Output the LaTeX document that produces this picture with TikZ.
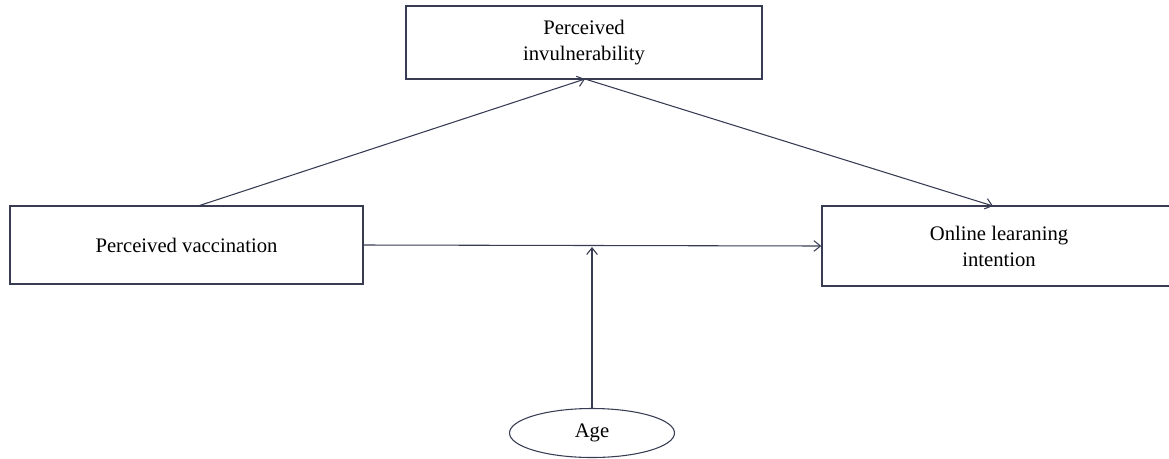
\documentclass[tikz,border=0pt]{standalone}
\usepackage{fontspec}
\setmainfont{Liberation Serif}
\usetikzlibrary{arrows.meta,shapes.geometric}
\definecolor{lc}{RGB}{55,60,82}
\begin{document}
\begin{tikzpicture}[x=0.75pt,y=-0.75pt,
  boxstyle/.style={draw=lc,line width=1pt,rectangle,inner sep=0pt,font=\fontsize{15.5}{19.5}\selectfont,align=center},
  conn/.style={draw=lc,line width=0.8pt,-{Straight Barb[length=5pt,width=8pt]}}]
\useasboundingbox (0,0) rectangle (1169,458);
\clip (0,0) rectangle (1169,458);
\node[boxstyle,minimum width=356*0.75pt,minimum height=73*0.75pt] (top) at (584,42.5) {Perceived\\invulnerability};
\node[boxstyle,minimum width=353*0.75pt,minimum height=78*0.75pt] (left) at (186.5,245) {Perceived vaccination};
\node[boxstyle,minimum width=354*0.75pt,minimum height=80*0.75pt] (right) at (999,246) {Online learaning\\intention};
\node[draw=lc,line width=0.8pt,ellipse,minimum width=165*0.75pt,minimum height=49*0.75pt,inner sep=0pt,font=\fontsize{15.5}{19.5}\selectfont] (age) at (592,433) {Age};
\coordinate (ls) at (198,206);
\coordinate (te) at (585,79);
\coordinate (re) at (993,206);
\coordinate (mid) at (592,247);
\draw[conn] (ls) -- (te);
\draw[conn] (te) -- (re);
\draw[conn] (left.east) -- (right.west);
\draw[conn] (age.north) -- (mid);
\end{tikzpicture}
\end{document}
